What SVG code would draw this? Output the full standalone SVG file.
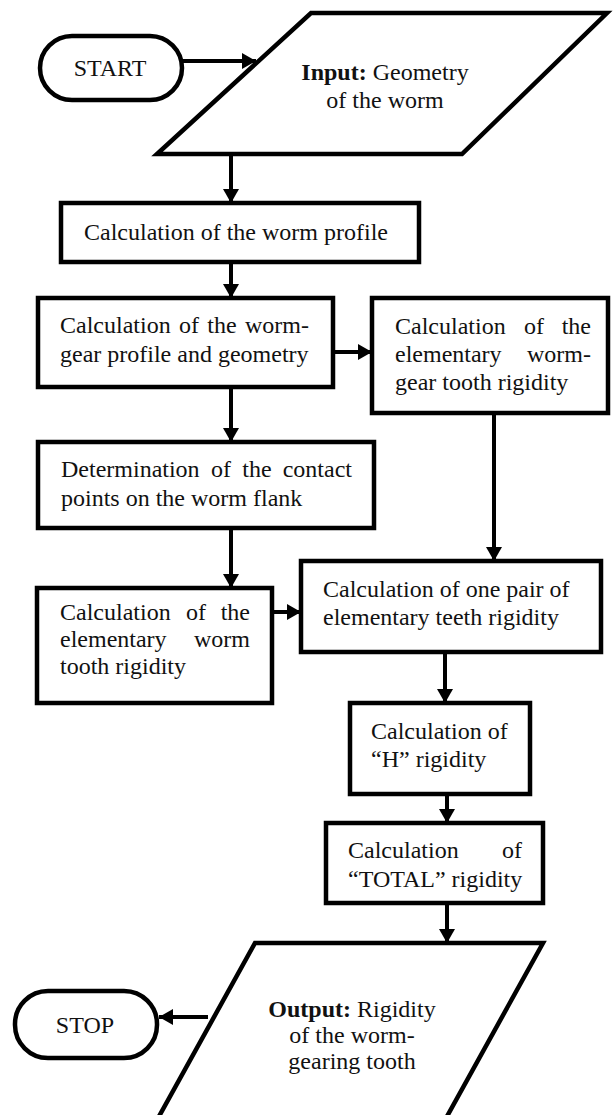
<svg xmlns="http://www.w3.org/2000/svg" width="614" height="1115" viewBox="0 0 614 1115">
<style>
.s{fill:#fff;stroke:#000;stroke-width:4.5}
.c{stroke:#000;stroke-width:4;fill:none}
text{font-family:"Liberation Serif","Times New Roman","DejaVu Serif","Noto Serif",serif;font-size:24px;fill:#111}
.m{text-anchor:middle}
.e{text-anchor:end}
.b{font-weight:bold}
</style>
<defs>
<marker id="a" markerUnits="userSpaceOnUse" markerWidth="16" markerHeight="18" refX="14" refY="9" orient="auto">
<path d="M0,1 L14,9 L0,17 z" fill="#000"/>
</marker>
</defs>
<g id="start"><rect class="s" x="40" y="36" width="142" height="64" rx="32"/><text class="m" x="110" y="76">START</text></g>
<g id="input"><polygon class="s" points="311,13 607,13 462,154 157,154"/>
<text class="m" x="385" y="80"><tspan class="b">Input:</tspan> Geometry</text>
<text class="m" x="385" y="108">of the worm</text></g>
<g id="wormprofile"><rect class="s" x="61" y="203" width="358" height="59"/><text class="m" x="236" y="240">Calculation of the worm profile</text></g>
<g id="gearprofile"><rect class="s" x="38" y="298" width="295" height="89"/>
<text x="60" y="333">Calculation</text><text class="m" x="189" y="333">of</text><text class="m" x="222" y="333">the</text><text class="e" x="309" y="333">worm-</text>
<text x="60" y="362">gear profile and geometry</text></g>
<g id="geartooth"><rect class="s" x="372" y="298" width="236" height="115"/>
<text x="395" y="334">Calculation</text><text class="m" x="534" y="334">of</text><text class="e" x="591" y="334">the</text>
<text x="395" y="362">elementary</text><text class="e" x="591" y="362">worm-</text>
<text x="395" y="390">gear tooth rigidity</text></g>
<g id="contact"><rect class="s" x="38" y="442" width="336" height="86"/>
<text x="61" y="477">Determination</text><text class="m" x="221" y="477">of</text><text class="m" x="257" y="477">the</text><text class="e" x="352" y="477">contact</text>
<text x="61" y="506">points on the worm flank</text></g>
<g id="wormtooth"><rect class="s" x="37" y="588" width="235" height="115"/>
<text x="60" y="620">Calculation</text><text class="m" x="196" y="620">of</text><text class="e" x="250" y="620">the</text>
<text x="60" y="647">elementary</text><text class="e" x="250" y="647">worm</text>
<text x="60" y="674">tooth rigidity</text></g>
<g id="pair"><rect class="s" x="301" y="561" width="300" height="91"/>
<text x="323" y="597">Calculation of one pair of</text>
<text x="323" y="625">elementary teeth rigidity</text></g>
<g id="h"><rect class="s" x="350" y="703" width="180" height="91"/>
<text x="371" y="739">Calculation of</text>
<text x="371" y="767">“H” rigidity</text></g>
<g id="total"><rect class="s" x="326" y="823" width="217" height="80"/>
<text x="348" y="858">Calculation</text><text class="e" x="522" y="858">of</text>
<text x="348" y="887">“TOTAL” rigidity</text></g>
<g id="output"><polygon class="s" points="255,943 543,943 445,1120 157,1120"/>
<text class="m" x="352" y="1017"><tspan class="b">Output:</tspan> Rigidity</text>
<text class="m" x="352" y="1043">of the worm-</text>
<text class="m" x="352" y="1069">gearing tooth</text></g>
<g id="stop"><rect class="s" x="15" y="991" width="142" height="67" rx="33"/><text class="m" x="85" y="1033">STOP</text></g>
<g id="connectors">
<line class="c" x1="183" y1="61" x2="256" y2="61" marker-end="url(#a)"/>
<line class="c" x1="231" y1="154" x2="231" y2="203" marker-end="url(#a)"/>
<line class="c" x1="231" y1="262" x2="231" y2="298" marker-end="url(#a)"/>
<line class="c" x1="333" y1="352" x2="372" y2="352" marker-end="url(#a)"/>
<line class="c" x1="231" y1="387" x2="231" y2="442" marker-end="url(#a)"/>
<line class="c" x1="231" y1="528" x2="231" y2="588" marker-end="url(#a)"/>
<line class="c" x1="494" y1="413" x2="494" y2="561" marker-end="url(#a)"/>
<line class="c" x1="272" y1="612" x2="301" y2="612" marker-end="url(#a)"/>
<line class="c" x1="445" y1="652" x2="445" y2="703" marker-end="url(#a)"/>
<line class="c" x1="447" y1="794" x2="447" y2="823" marker-end="url(#a)"/>
<line class="c" x1="447" y1="903" x2="447" y2="943" marker-end="url(#a)"/>
<line class="c" x1="208" y1="1017" x2="159" y2="1017" marker-end="url(#a)"/>
</g>
</svg>
